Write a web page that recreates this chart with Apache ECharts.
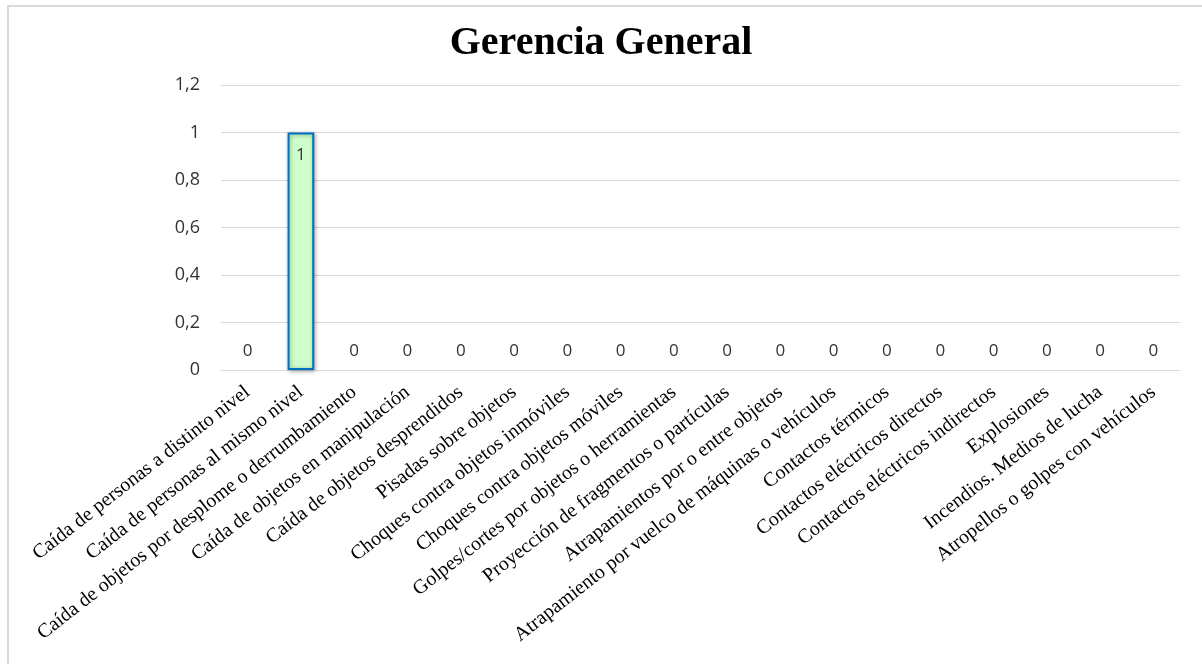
<!DOCTYPE html>
<html>
<head>
<meta charset="utf-8">
<script src="https://cdn.jsdelivr.net/npm/echarts@6/dist/echarts.min.js"></script>
<style>
html,body{margin:0;padding:0;background:#fff;}
#chart{width:1202px;height:664px;}
</style>
</head>
<body>
<div id="chart"></div>
<script>
const titleText = 'Gerencia General';
const categories = [
  'Caída de personas a distinto nivel',
  'Caída de personas al mismo nivel',
  'Caída de objetos por desplome o derrumbamiento',
  'Caída de objetos en manipulación',
  'Caída de objetos desprendidos',
  'Pisadas sobre objetos',
  'Choques contra objetos inmóviles',
  'Choques contra objetos móviles',
  'Golpes/cortes por objetos o herramientas',
  'Proyección de fragmentos o partículas',
  'Atrapamientos por o entre objetos',
  'Atrapamiento por vuelco de máquinas o vehículos',
  'Contactos térmicos',
  'Contactos eléctricos directos',
  'Contactos eléctricos indirectos',
  'Explosiones',
  'Incendios. Medios de lucha',
  'Atropellos o golpes con vehículos'
];
const values = [0, 1, 0, 0, 0, 0, 0, 0, 0, 0, 0, 0, 0, 0, 0, 0, 0, 0];
const yMin = 0, yMax = 1.2, yStep = 0.2;

const barData = values.map(v => v > 0
  ? {value: v, label: {position: 'insideTop', distance: 14}}
  : {value: v, itemStyle: {borderWidth: 0, shadowBlur: 0, shadowOffsetX: 0, shadowOffsetY: 0, color: 'rgba(0,0,0,0)'}});

const chart = echarts.init(document.getElementById('chart'), null, {renderer: 'canvas'});
chart.setOption({
  backgroundColor: '#ffffff',
  animation: false,
  graphic: [{
    type: 'rect',
    shape: {x: 8, y: 6, width: 1210, height: 680},
    style: {fill: 'none', stroke: '#d9d9d9', lineWidth: 2},
    silent: true, z: -1
  }],
  title: {
    text: titleText,
    left: 'center',
    top: 19,
    textStyle: {fontFamily: 'Liberation Serif', fontWeight: 'bold', fontSize: 40, color: '#000'}
  },
  grid: {left: 221, right: 22, top: 85, bottom: 294, containLabel: false},
  xAxis: {
    type: 'category',
    data: categories,
    axisLine: {show: true, lineStyle: {color: '#d9d9d9', width: 1}},
    axisTick: {show: false},
    axisLabel: {
      interval: 0,
      rotate: 38,
      margin: 20,
      fontFamily: 'Liberation Serif',
      fontSize: 20,
      color: '#000'
    }
  },
  yAxis: {
    type: 'value',
    min: yMin, max: yMax, interval: yStep,
    axisLine: {show: false},
    axisTick: {show: false},
    splitLine: {lineStyle: {color: '#d9d9d9', width: 1}},
    axisLabel: {
      margin: 21,
      fontFamily: 'Open Sans',
      fontSize: 18,
      color: '#333333',
      formatter: v => (Math.round(v * 10) / 10).toString().replace('.', ',')
    }
  },
  series: [{
    type: 'bar',
    data: barData,
    barWidth: '50%',
    itemStyle: {
      color: '#ccffcc',
      borderColor: '#0070c0',
      borderWidth: 2,
      shadowColor: 'rgba(0,0,0,0.35)',
      shadowBlur: 4,
      shadowOffsetX: 1,
      shadowOffsetY: 1
    },
    label: {
      show: true,
      position: 'top',
      distance: 10,
      fontFamily: 'Open Sans',
      fontSize: 17,
      color: '#333333'
    },
    emphasis: {disabled: true}
  }]
});
</script>
</body>
</html>
